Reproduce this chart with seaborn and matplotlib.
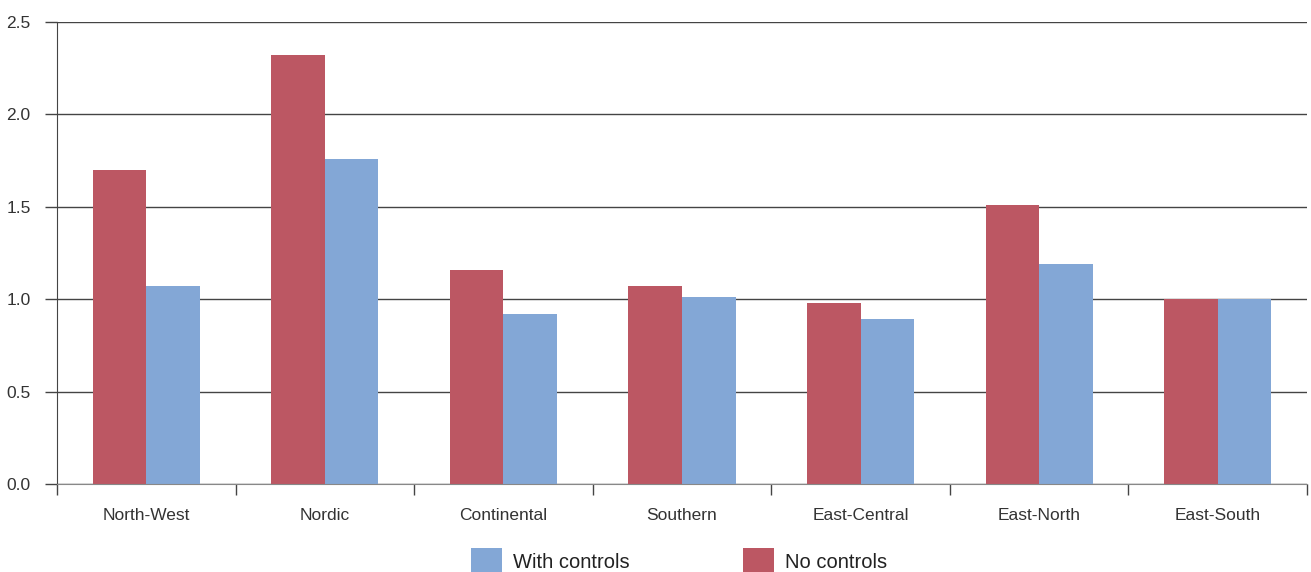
import matplotlib
matplotlib.use("Agg")
import matplotlib.pyplot as plt
import numpy as np
import seaborn as sns
import pandas as pd

# data
regions = ["North-West", "Nordic", "Continental", "Southern",
           "East-Central", "East-North", "East-South"]
no_controls = [1.70, 2.32, 1.16, 1.07, 0.98, 1.51, 1.00]
with_controls = [1.07, 1.76, 0.92, 1.01, 0.89, 1.19, 1.00]
series = ["No controls", "With controls"]
colors = {"No controls": "#BC5763", "With controls": "#83A7D6"}

df = pd.DataFrame({"region": regions, "No controls": no_controls,
                   "With controls": with_controls})
df = df.melt(id_vars="region", var_name="model", value_name="value")

sns.set_style("ticks")
plt.rcParams["font.family"] = ["Liberation Sans", "DejaVu Sans"]

fig = plt.figure(figsize=(13.11, 5.72), dpi=100)
ax = fig.add_axes([0.0435, 0.154, 0.9535, 0.8075])

sns.barplot(data=df, x="region", y="value", hue="model", hue_order=series,
            palette=colors, width=0.6, saturation=1, linewidth=0,
            legend=False, ax=ax)

ax.set_ylim(0, 2.5)
ax.set_xlim(-0.5, len(regions) - 0.5)
ax.set_yticks(np.arange(0, 2.51, 0.5))
ax.set_yticklabels([f"{v:.1f}" for v in np.arange(0, 2.51, 0.5)])
ax.set_axisbelow(True)
ax.yaxis.grid(True, color="#444444", linewidth=1)
ax.set_xlabel("")
ax.set_ylabel("")

# ticks at category boundaries
ax.set_xticks(np.arange(-0.5, len(regions)), minor=True)
ax.tick_params(axis="x", which="major", length=0, pad=17, labelsize=12.5, labelcolor="#333333")
ax.tick_params(axis="x", which="minor", bottom=True, length=8, width=1,
               color="#444444", direction="out")
ax.tick_params(axis="y", left=True, length=9, width=1, color="#444444", direction="out",
               labelsize=12.5, labelcolor="#333333", pad=10)

for side in ["top", "right"]:
    ax.spines[side].set_visible(False)
ax.spines["left"].set_color("#444444")
ax.spines["bottom"].set_color("#888888")

handles = [ax.containers[1], ax.containers[0]]
fig.legend(handles=handles, labels=["With controls", "No controls"],
           loc="lower center", bbox_to_anchor=(0.518, -0.036), ncol=2,
           frameon=False, fontsize=14.5, handlelength=1.55, handleheight=1.65,
           columnspacing=5.6, handletextpad=0.55, labelcolor="#222222")

fig.savefig("out.png", dpi=100)
